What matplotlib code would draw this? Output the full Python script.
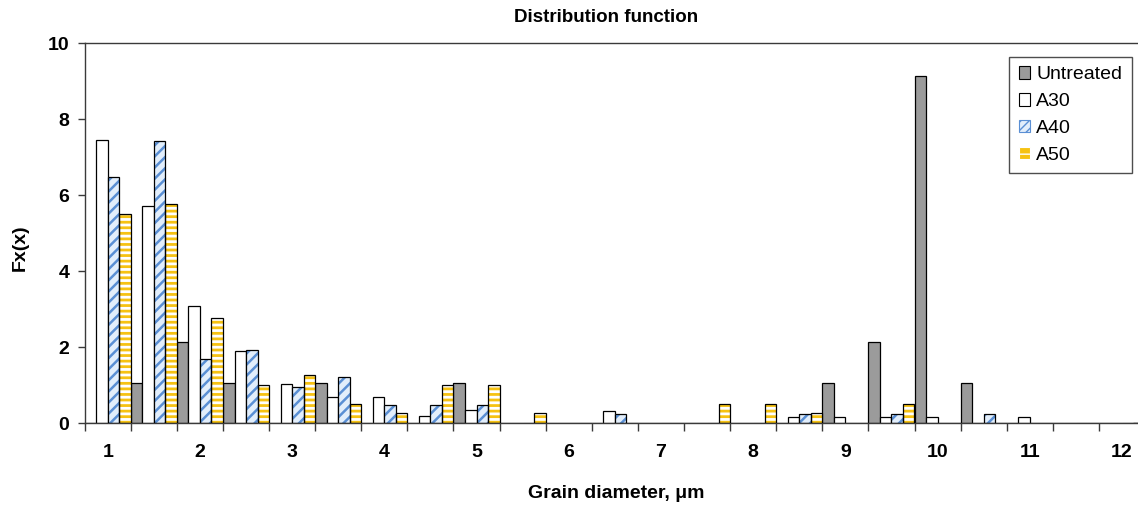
import matplotlib
matplotlib.use('Agg')
import matplotlib.pyplot as plt
from matplotlib.patches import Patch
import numpy as np

plt.rcParams['font.family'] = ['Liberation Sans', 'DejaVu Sans']

# ---- data -------------------------------------------------------------
categories = [1, 1.5, 2, 2.5, 3, 3.5, 4, 4.5, 5, 5.5, 6, 6.5,
              7, 7.5, 8, 8.5, 9, 9.5, 10, 10.5, 11, 11.5, 12]
tick_labels = ['1', '2', '3', '4', '5', '6', '7', '8', '9', '10', '11', '12']
untreated = [0, 1.06, 2.13, 1.06, 0, 1.07, 0, 0, 1.07, 0, 0, 0,
             0, 0, 0, 0, 1.07, 2.15, 9.14, 1.07, 0, 0, 0]
a30 = [7.46, 5.73, 3.10, 1.90, 1.03, 0.69, 0.69, 0.18, 0.35, 0, 0, 0.33,
       0, 0, 0, 0.17, 0.17, 0.17, 0.17, 0, 0.17, 0, 0]
a40 = [6.48, 7.43, 1.68, 1.92, 0.95, 1.21, 0.48, 0.48, 0.48, 0, 0, 0.24,
       0, 0, 0, 0.24, 0, 0.24, 0, 0.24, 0, 0, 0]
a50 = [5.52, 5.78, 2.76, 1.01, 1.26, 0.51, 0.27, 1.02, 1.02, 0.26, 0, 0,
       0, 0.50, 0.50, 0.26, 0, 0.51, 0, 0, 0, 0, 0]
series_names = ['Untreated', 'A30', 'A40', 'A50']

# ---- figure -----------------------------------------------------------
W, H = 1138, 507
fig = plt.figure(figsize=(W / 100, H / 100), dpi=100)
cat_px = 46.1
ax = fig.add_axes([84.7 / W, (H - 423.3) / H, len(categories) * cat_px / W, 380 / H])

n = len(categories)
x = np.arange(n)
bw = 0.25
edge_lw = 0.9
GRAY = '#9b9b9b'
BLUE_BG = '#e2eefb'
BLUE_HATCH = '#5a8fd4'
YELLOW = '#f6c212'

# Untreated
ax.bar(x, untreated, bw, align='edge', color=GRAY, edgecolor='black', lw=edge_lw, zorder=2)
# A30
ax.bar(x + bw, a30, bw, align='edge', color='white', edgecolor='black', lw=edge_lw, zorder=2)
# A40 (blue diagonal stripes)
with plt.rc_context({'hatch.linewidth': 1.8}):
    ax.bar(x + 2 * bw, a40, bw, align='edge', color=BLUE_BG, edgecolor=BLUE_HATCH,
           hatch='///', lw=0, zorder=2)
ax.bar(x + 2 * bw, a40, bw, align='edge', color='none', edgecolor='black', lw=edge_lw, zorder=3)
# A50 (yellow with white horizontal stripes)
with plt.rc_context({'hatch.linewidth': 2.0}):
    ax.bar(x + 3 * bw, a50, bw, align='edge', color=YELLOW, edgecolor='white',
           hatch='---', lw=0, zorder=2)
ax.bar(x + 3 * bw, a50, bw, align='edge', color='none', edgecolor='black', lw=edge_lw, zorder=3)

ax.set_xlim(0, n)
ax.set_ylim(0, 10)

# axes styling
for s in ['left', 'bottom', 'top']:
    ax.spines[s].set_color('#3a3a3a')
    ax.spines[s].set_linewidth(1.0)
ax.spines['right'].set_visible(False)

ax.set_yticks(np.arange(0, 11, 2))
ax.set_yticklabels([str(v) for v in range(0, 11, 2)], fontsize=14, fontweight='bold')
ax.tick_params(axis='y', direction='out', length=5, width=1, color='#3a3a3a', pad=6)

ax.set_xticks(np.arange(0, n + 1))
ax.set_xticklabels([])
ax.tick_params(axis='x', which='major', direction='out', length=6, width=1, color='#3a3a3a')
ax.set_xticks(x[::2] + 0.5, minor=True)
ax.set_xticklabels(tick_labels, minor=True, fontsize=14, fontweight='bold')
ax.tick_params(axis='x', which='minor', length=0, pad=15)

# texts
fig.text(606 / W, 1 - 18 / H, 'Distribution function', ha='center', va='center',
         fontsize=13.5, fontweight='bold')
fig.text(616 / W, 1 - 493 / H, 'Grain diameter, μm', ha='center', va='center',
         fontsize=14, fontweight='bold')
fig.text(20 / W, 1 - 248 / H, 'Fx(x)', ha='center', va='center', rotation=90,
         fontsize=14, fontweight='bold')

# legend
handles = [
    Patch(facecolor=GRAY, edgecolor='black', lw=0.8),
    Patch(facecolor='white', edgecolor='black', lw=0.8),
    Patch(facecolor=BLUE_BG, edgecolor=BLUE_HATCH, hatch='////', lw=0.8),
    Patch(facecolor=YELLOW, edgecolor='white', hatch='--', lw=0.8),
]
leg = fig.legend(handles, series_names, loc='upper left',
                 bbox_to_anchor=(1009 / W, 1 - 56.7 / H), fontsize=14,
                 frameon=True, fancybox=False, shadow=False,
                 handlelength=0.6, handleheight=0.6, handletextpad=0.3,
                 labelspacing=0.5, borderpad=0.5, borderaxespad=0)
leg.get_frame().set_edgecolor('#222222')
leg.get_frame().set_linewidth(1.0)

fig.savefig('out.png', dpi=100)
